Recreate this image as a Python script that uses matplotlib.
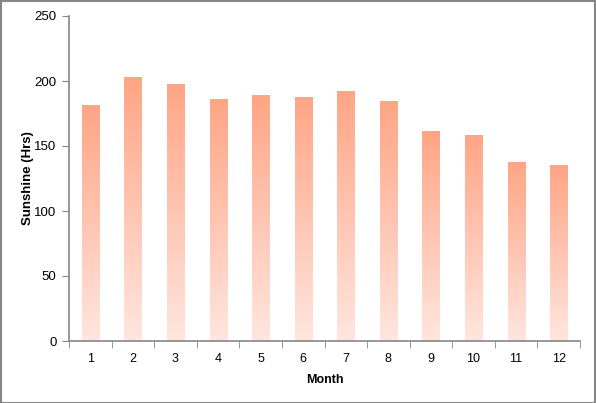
import numpy as np
import matplotlib
matplotlib.use("Agg")
from matplotlib import pyplot as plt
from matplotlib.colors import LinearSegmentedColormap
from matplotlib.patches import Rectangle

months = [str(m) for m in range(1, 13)]
sunshine = [181, 203, 197, 186, 189, 187, 192, 184, 161, 158, 137, 135]

plt.rcParams['font.family'] = ['Liberation Sans', 'DejaVu Sans']
axis_grey = "#868686"

fig = plt.figure(figsize=(5.96, 4.03), dpi=100)
ax = fig.add_axes([69 / 596, 1 - 341 / 403, 511 / 596, 325 / 403])

x = np.arange(len(months))
bars = ax.bar(x, sunshine, width=0.4, color="none", edgecolor="none")

# vertical gradient per bar, dark salmon at top, pale pink at the base
cmap = LinearSegmentedColormap.from_list("sun", ["#ffe6df", "#ffa585"])
grad = np.linspace(0, 1, 256).reshape(-1, 1)
for b in bars:
    x0, w, h = b.get_x(), b.get_width(), b.get_height()
    ax.imshow(grad, cmap=cmap, origin="lower", aspect="auto",
              extent=(x0, x0 + w, 0, h), zorder=2)

ax.set_xlim(-0.5, len(months) - 0.5)
ax.set_ylim(0, 250)
ax.set_yticks(range(0, 251, 50))
ax.set_xticks(x)
ax.set_xticklabels(months)
ax.set_xticks(np.arange(-0.5, len(months)), minor=True)
ax.tick_params(axis="x", which="major", length=0, pad=9, labelsize=9)
ax.tick_params(axis="x", which="minor", length=5, color=axis_grey)
ax.tick_params(axis="y", length=5, color=axis_grey, labelsize=9.5, pad=4)

for side in ("top", "right"):
    ax.spines[side].set_visible(False)
for side in ("left", "bottom"):
    ax.spines[side].set_color(axis_grey)
    ax.spines[side].set_linewidth(1.2)

ax.set_xlabel("Month", fontweight="bold", fontsize=9, labelpad=6)
ax.set_ylabel("Sunshine (Hrs)", fontweight="bold", fontsize=9.5)
ax.yaxis.set_label_coords(-0.068, 0.5)

fig.add_artist(Rectangle((0.001, 0.001), 0.997, 0.997, transform=fig.transFigure,
                         fill=False, edgecolor=axis_grey, linewidth=1.5))

fig.savefig("out.png", dpi=100)
